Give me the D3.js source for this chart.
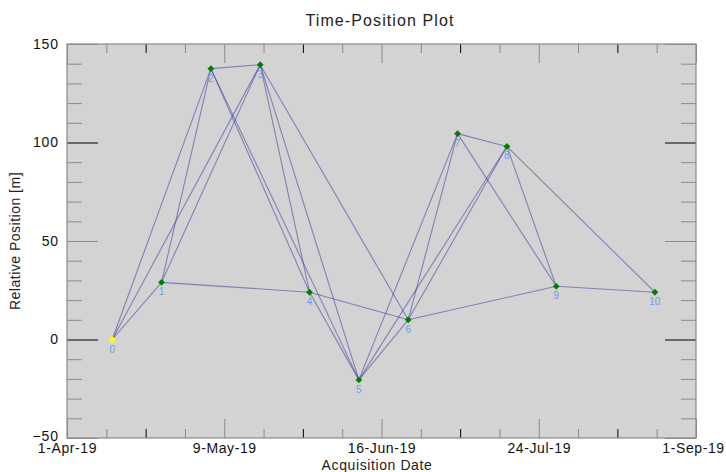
<!DOCTYPE html>
<html>
<head>
<meta charset="utf-8">
<script src="https://cdn.jsdelivr.net/npm/d3@7"></script>
<style>
  body { margin: 0; background: #fff; }
  text { font-family: "Liberation Sans", Arial, sans-serif; }
</style>
</head>
<body>
<svg id="chart" width="726" height="472"></svg>
<script>
// acquisitions (index, date, relative position in m)
var acqDates = ['2019-04-12','2019-04-24','2019-05-06','2019-05-18','2019-05-30','2019-06-11',
                '2019-06-23','2019-07-05','2019-07-17','2019-07-29','2019-08-22'];
var positions = [0, 29, 137.5, 139.5, 24, -20.5, 10, 104.5, 98, 27, 24];
var refIndex = 0;

// interferometric pairs
var pairs = [[0,1],[0,2],[0,3],[1,2],[1,3],[1,4],[2,3],[2,4],[2,5],[3,4],[3,5],[3,6],
             [4,5],[4,6],[5,6],[5,7],[5,8],[6,7],[6,8],[6,9],[7,8],[7,9],[8,9],[8,10],[9,10]];

var xTickLabels = ['1-Apr-19','9-May-19','16-Jun-19','24-Jul-19','1-Sep-19'];
var yTicks = [-50, 0, 50, 100, 150];

var parse = d3.timeParse('%Y-%m-%d');
var svg = d3.select('#chart');
var L = 67, R = 696, T = 44, B = 438;

var x = d3.scaleTime().domain([parse('2019-04-01'), parse('2019-09-01')]).range([L, R]);
var y = d3.scaleLinear().domain([-50, 150]).range([B, T]);

// background of the plot area
svg.append('rect').attr('x', L).attr('y', T).attr('width', R - L).attr('height', B - T)
    .attr('fill', '#d3d3d3');

// x tick dates: evenly split domain, 4 minor steps per major
var t0 = x.domain()[0].getTime(), t1 = x.domain()[1].getTime();
var majorX = d3.range(5).map(function(i){ return new Date(t0 + (t1 - t0) * i / 4); });
var minorX = d3.range(17).map(function(i){ return new Date(t0 + (t1 - t0) * i / 16); })
    .filter(function(d, i){ return i % 4 != 0; });
var minorY = d3.range(-40, 150, 10).filter(function(v){ return v % 50 != 0; });

function tickColor(sel, blackFn){
    sel.selectAll('.tick line').attr('stroke', function(d, i){ return blackFn(d, i) ? '#000' : '#8a8a8a'; });
    sel.select('.domain').remove();
}
function labelStyle(sel, ls){
    sel.selectAll('text').attr('font-size', 14).attr('fill', '#111')
        .attr('letter-spacing', ls)
        .attr('font-family', '"Liberation Sans", Arial, sans-serif');
}
var midX = function(d, i){ return i % 3 == 1; };
var blackY = function(d){ return d == 0 || d == 100; };

// bottom axis
var gB = svg.append('g').attr('transform', 'translate(0,' + B + ')')
    .call(d3.axisBottom(x).tickValues(majorX).tickSize(-19).tickPadding(5)
        .tickFormat(function(d, i){ return xTickLabels[i]; }));
tickColor(gB, function(){ return false; });
labelStyle(gB, 0.6);
gB.selectAll('text').filter(function(d, i){ return i == 4; }).attr('dx', -3);
var gBm = svg.append('g').attr('transform', 'translate(0,' + B + ')')
    .call(d3.axisBottom(x).tickValues(minorX).tickSize(-9).tickFormat(''));
tickColor(gBm, midX);

// top axis
var gT = svg.append('g').attr('transform', 'translate(0,' + T + ')')
    .call(d3.axisTop(x).tickValues(majorX).tickSize(-19).tickFormat(''));
tickColor(gT, function(){ return false; });
var gTm = svg.append('g').attr('transform', 'translate(0,' + T + ')')
    .call(d3.axisTop(x).tickValues(minorX).tickSize(-9).tickFormat(''));
tickColor(gTm, midX);

// left axis
var gL = svg.append('g').attr('transform', 'translate(' + L + ',0)')
    .call(d3.axisLeft(y).tickValues(yTicks).tickSize(-31).tickPadding(8));
tickColor(gL, blackY);
labelStyle(gL, 0.9);
gL.selectAll('text').filter(function(d){ return d == -50; }).attr('dy', '0.15em');
var gLm = svg.append('g').attr('transform', 'translate(' + L + ',0)')
    .call(d3.axisLeft(y).tickValues(minorY).tickSize(-15).tickFormat(''));
tickColor(gLm, function(){ return false; });

// right axis
var gR = svg.append('g').attr('transform', 'translate(' + R + ',0)')
    .call(d3.axisRight(y).tickValues(yTicks).tickSize(-31).tickFormat(''));
tickColor(gR, blackY);
var gRm = svg.append('g').attr('transform', 'translate(' + R + ',0)')
    .call(d3.axisRight(y).tickValues(minorY).tickSize(-15).tickFormat(''));
tickColor(gRm, function(){ return false; });

// frame
svg.append('rect').attr('x', L).attr('y', T).attr('width', R - L).attr('height', B - T)
    .attr('fill', 'none').attr('stroke', '#8a8a8a').attr('stroke-width', 1.2);

var pts = acqDates.map(function(d, i){ return {i: i, date: parse(d), v: positions[i]}; });

// connections
svg.append('g').selectAll('line').data(pairs).enter().append('line')
    .attr('x1', function(p){ return x(pts[p[0]].date); })
    .attr('y1', function(p){ return y(pts[p[0]].v); })
    .attr('x2', function(p){ return x(pts[p[1]].date); })
    .attr('y2', function(p){ return y(pts[p[1]].v); })
    .attr('stroke', 'rgba(60,60,160,0.55)')
    .attr('stroke-width', 1.1);

// labels under markers
svg.append('g').selectAll('text').data(pts).enter().append('text')
    .attr('x', function(d){ return x(d.date); })
    .attr('y', function(d){ return y(d.v) + 13; })
    .attr('text-anchor', 'middle')
    .attr('font-size', 10)
    .attr('fill', '#6f9be8')
    .text(function(d){ return d.i; });

// markers
svg.append('g').selectAll('path').data(pts).enter().append('path')
    .attr('d', d3.symbol().type(d3.symbolDiamond2).size(30))
    .attr('transform', function(d){ return 'translate(' + x(d.date) + ',' + y(d.v) + ')'; })
    .attr('fill', function(d){ return d.i == refIndex ? '#ffff00' : '#008000'; });

// titles
svg.append('text').attr('x', 380).attr('y', 26).attr('text-anchor', 'middle')
    .attr('font-size', 16).attr('letter-spacing', 1.1).attr('fill', '#222').text('Time-Position Plot');
svg.append('text').attr('x', 377).attr('y', 470).attr('text-anchor', 'middle')
    .attr('font-size', 14).attr('letter-spacing', 0.6).attr('fill', '#222').text('Acquisition Date');
svg.append('text').attr('transform', 'translate(20,241) rotate(-90)').attr('text-anchor', 'middle')
    .attr('font-size', 14).attr('letter-spacing', 0.5).attr('fill', '#222').text('Relative Position [m]');
</script>
</body>
</html>
